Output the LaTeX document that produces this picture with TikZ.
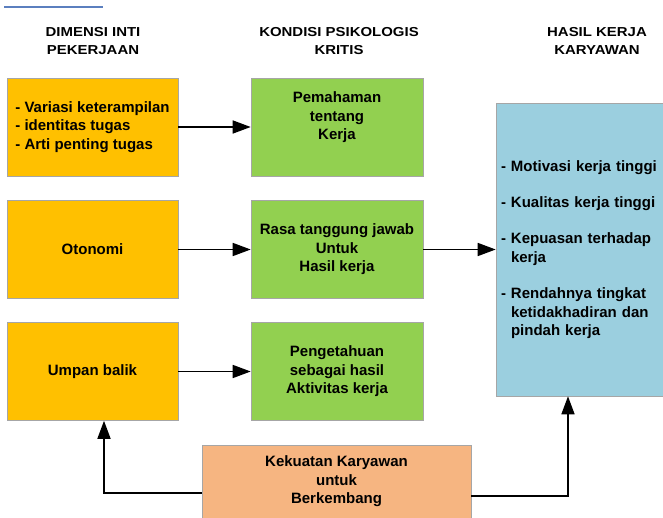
\documentclass[tikz,border=0pt]{standalone}
\usepackage{fontspec}
\setmainfont{Liberation Sans}
\newfontfamily\headfont[FakeStretch=1.15]{Liberation Sans}
\usepackage{tikz}
\usetikzlibrary{arrows.meta}
\definecolor{kuning}{HTML}{FFC000}
\definecolor{hijau}{HTML}{92D050}
\definecolor{birumuda}{HTML}{9BCFDF}
\definecolor{jingga}{HTML}{F6B581}
\definecolor{garisbiru}{HTML}{5B7FBF}

\begin{document}
\begin{tikzpicture}[x=1pt, y=-1pt,
	kotak/.style={draw=gray!70, line width=0.6pt, inner sep=0pt, font=\bfseries\fontsize{15}{18.4}\selectfont},
	dimensi/.style={kotak, fill=kuning, minimum width=171pt, minimum height=98pt},
	kondisi/.style={kotak, fill=hijau, minimum width=172pt, minimum height=98pt, align=center},
	judul/.style={font=\headfont\bfseries\fontsize{13}{18.5}\selectfont, align=center},
	panah/.style={line width=1.6pt, -{Triangle[length=18pt, width=13pt]}}]
							\useasboundingbox (0,0) rectangle (663,518);
							\draw[garisbiru, line width=2pt] (4,7) -- (103,7);
							
							\node[judul] (J1) at (93,41) {DIMENSI INTI\\PEKERJAAN};
							\node[judul] (J2) at (339,41) {KONDISI PSIKOLOGIS\\KRITIS};
							\node[judul] (J3) at (597,41) {HASIL KERJA\\KARYAWAN};
							
							\node[dimensi, align=left] (D1) at (92.5,127) {- Variasi keterampilan\\- identitas tugas\\- Arti penting tugas};
							\node[dimensi] (D2) at (92.5,249.5) {Otonomi};
							\node[dimensi] (D3) at (92.5,371.5) {Umpan balik};
							
							\node[kondisi] (K1) at (337,127) {Pemahaman\\tentang\\Kerja\\[4pt]\mbox{}};
							\node[kondisi] (K2) at (337,249.5) {Rasa tanggung jawab\\Untuk\\Hasil kerja};
							\node[kondisi] (K3) at (337,371.5) {Pengetahuan\\sebagai hasil\\Aktivitas kerja};
							
							\node[kotak, fill=birumuda, minimum height=293pt, text width=162pt, inner xsep=5pt, align=left] (H) at (582,249.5) {- Motivasi kerja tinggi\\[18pt]- Kualitas kerja tinggi\\[18pt]- Kepuasan terhadap\\\phantom{- }kerja\\[18pt]- Rendahnya tingkat\\\phantom{- }ketidakhadiran dan\\\phantom{- }pindah kerja};
							
							\node[kotak, fill=jingga, minimum width=269pt, minimum height=73pt, align=center] (P) at (336.5,481.5) {Kekuatan Karyawan\\untuk\\Berkembang};
							
							\draw[panah] (D1) -- (K1);
							\draw[panah] (D2) -- (K2);
							\draw[panah] (D3) -- (K3);
							\draw[panah] (K2) -- (H);
							\draw[panah] ([yshift=-11.5pt]P.west) -| ([xshift=11.5pt]D3.south);
							\draw[panah] ([yshift=-14.5pt]P.east) -| ([xshift=-14pt]H.south);
						\end{tikzpicture}
\end{document}
